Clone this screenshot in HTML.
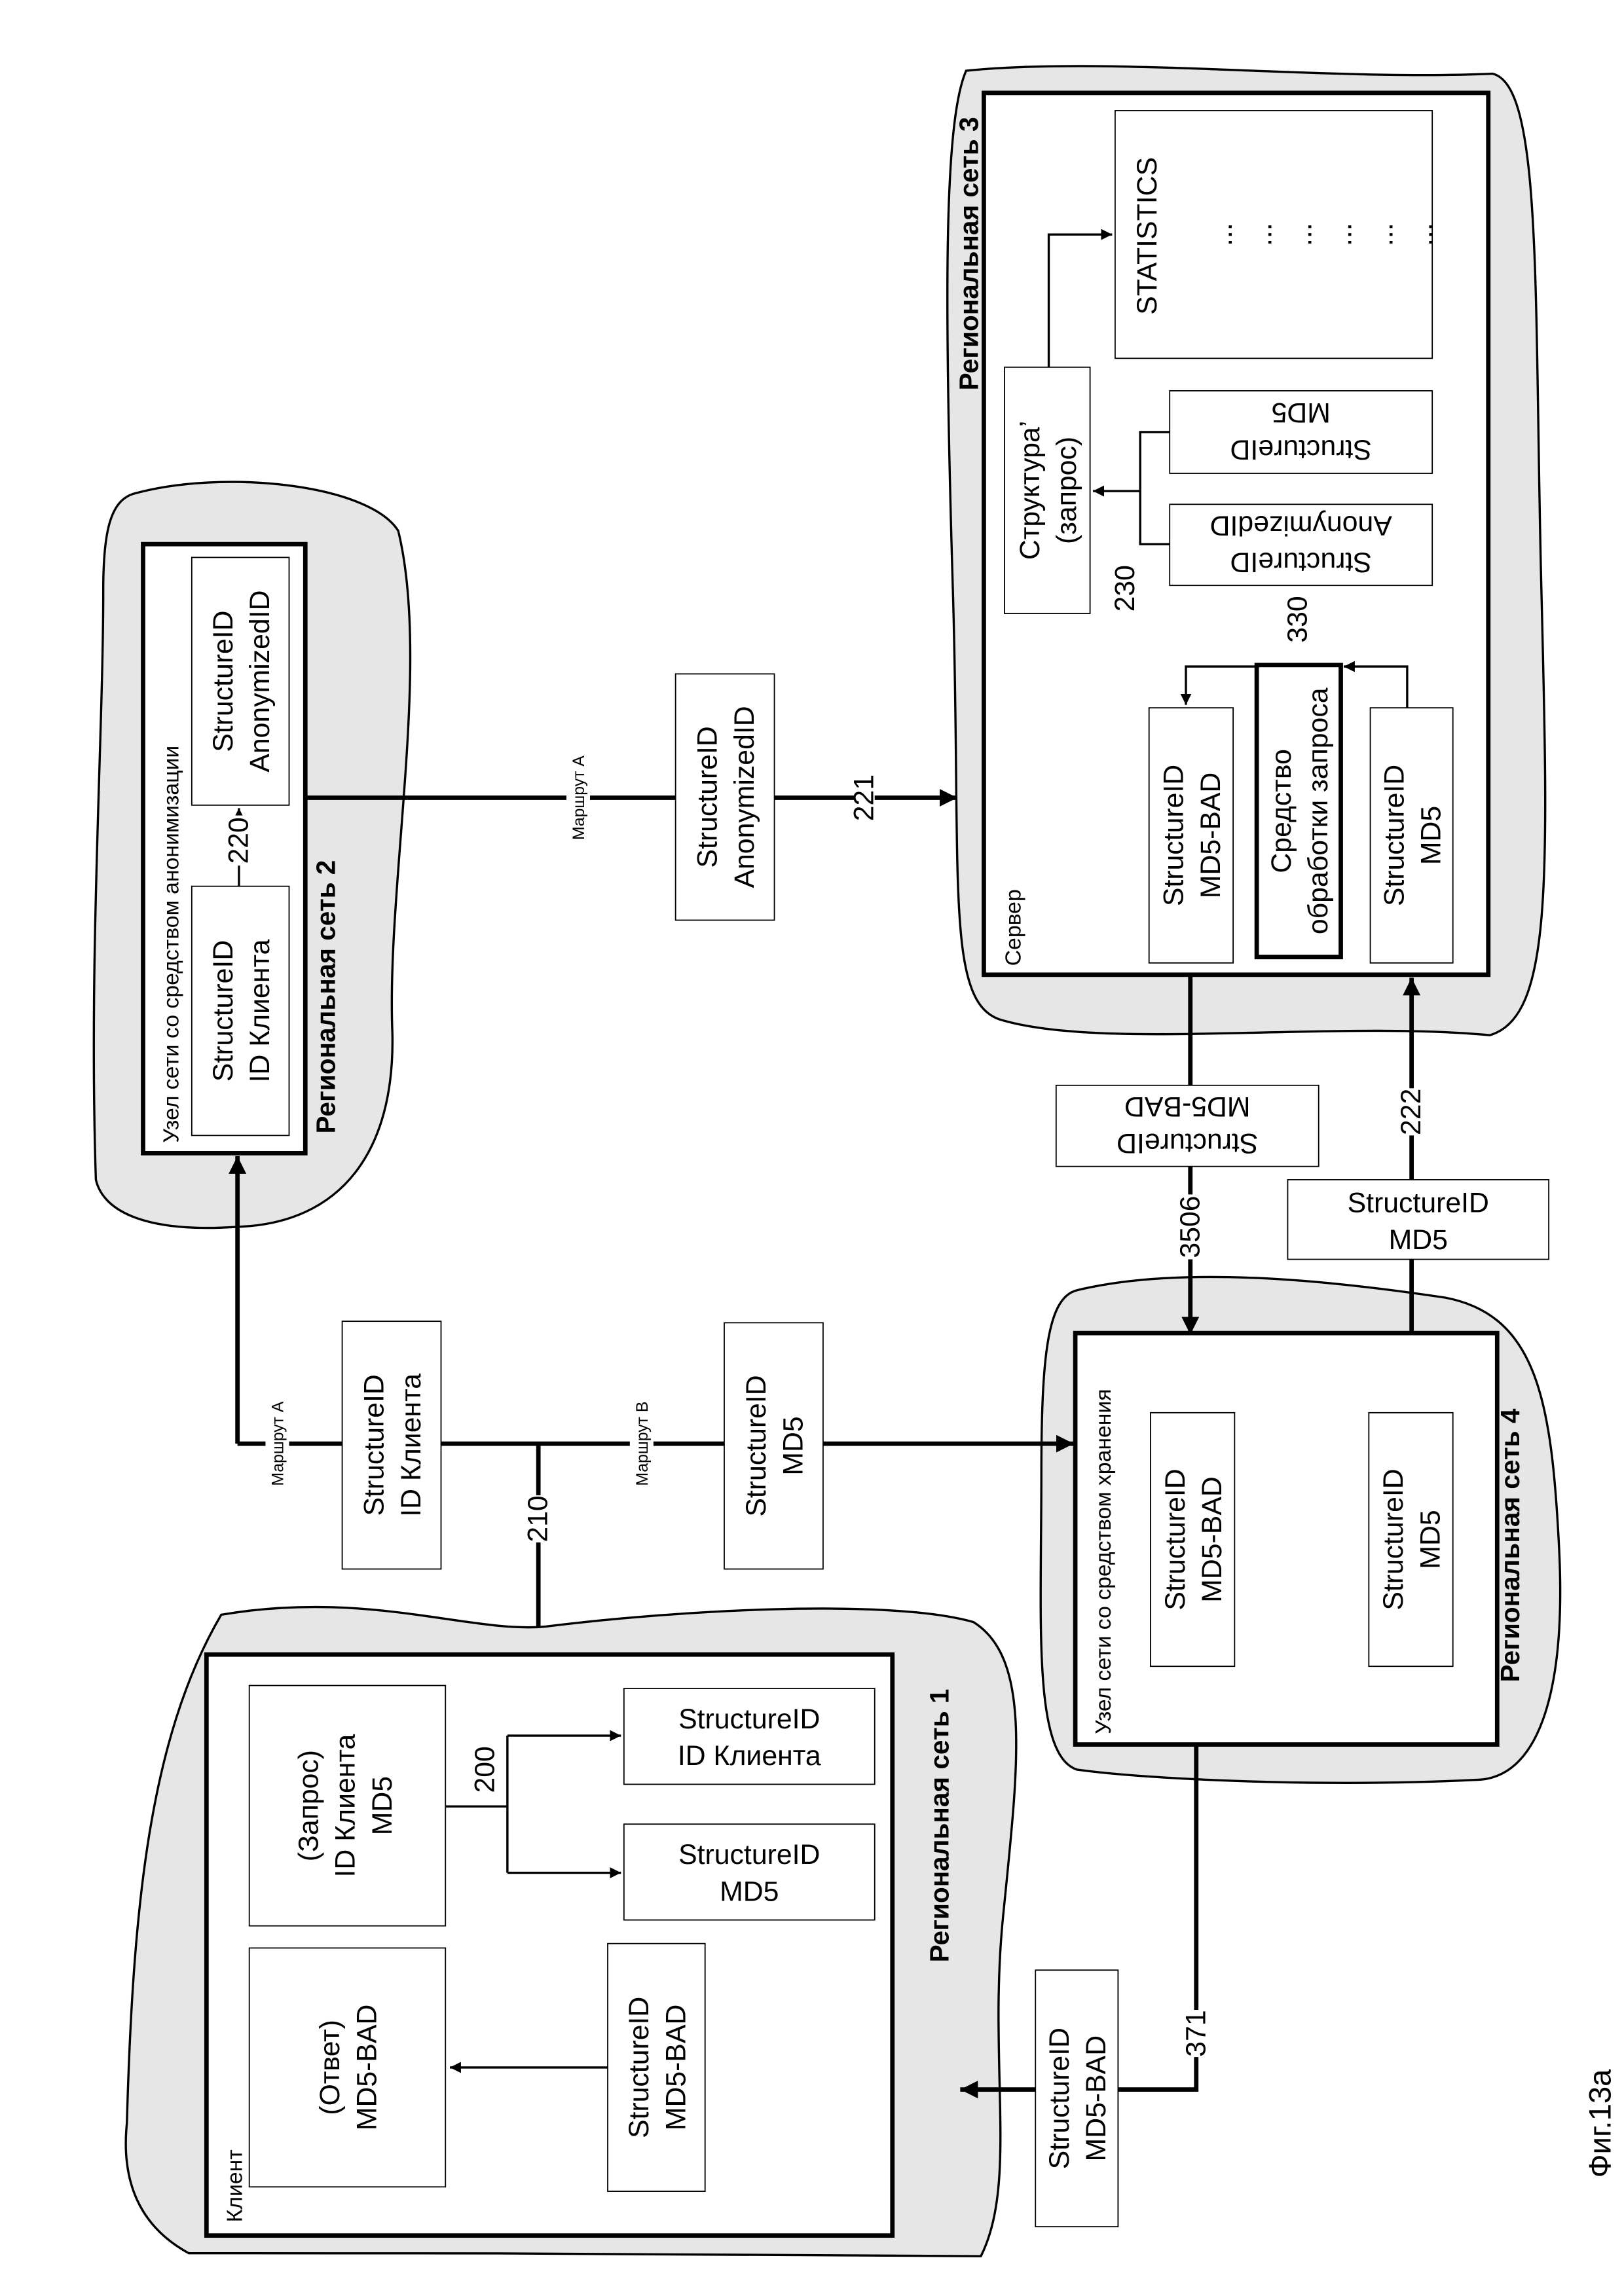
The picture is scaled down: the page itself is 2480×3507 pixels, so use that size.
<!DOCTYPE html>
<html><head><meta charset="utf-8"><style>
html,body{margin:0;padding:0;background:#fff;}
svg{display:block;}
text{font-family:"Liberation Sans",sans-serif;fill:#000;}
</style></head><body>
<svg width="2480" height="3507" viewBox="0 0 1101 1557" preserveAspectRatio="none" xmlns="http://www.w3.org/2000/svg">
<defs>
<marker id="a" viewBox="0 0 10 10" refX="10" refY="5" markerWidth="5" markerHeight="5" orient="auto" markerUnits="strokeWidth"><path d="M0,0 L10,5 L0,10 Z" fill="#000"/></marker>
<marker id="b" viewBox="0 0 10 10" refX="10" refY="5" markerWidth="4" markerHeight="4" orient="auto" markerUnits="strokeWidth"><path d="M0,0 L10,5 L0,10 Z" fill="#000"/></marker>
</defs>
<rect width="1101" height="1557" fill="#fff"/>
<g fill="#e6e6e6" stroke="#000" stroke-width="1.5">
<path d="M150,1095 C250,1078 320,1108 370,1103 C450,1093 600,1083 660,1100 C700,1125 690,1200 680,1300 C670,1400 690,1480 665,1530 C560,1528 300,1528 128,1528 C95,1510 82,1480 86,1440 C90,1300 100,1180 150,1095 Z"/>
<path d="M90,335 C150,318 250,328 270,360 C292,450 262,600 266,700 C268,780 232,830 160,832 C100,836 70,822 65,800 C60,650 70,500 70,400 C70,360 75,340 90,335 Z"/>
<path d="M655,48 C750,38 900,55 1012,50 C1046,58 1040,200 1045,400 C1050,600 1052,690 1010,702 C900,692 750,712 680,692 C640,682 652,600 646,400 C640,200 640,82 655,48 Z"/>
<path d="M730,875 C800,858 900,868 980,880 C1042,892 1052,950 1057,1050 C1062,1150 1042,1207 1000,1207 C900,1212 780,1207 730,1200 C700,1190 706,1100 706,1000 C706,920 710,880 730,875 Z"/>
</g>
<!-- thick connectors -->
<g stroke="#000" stroke-width="3" fill="none">
<path d="M161,979 L161,784" marker-end="url(#b)"/>
<path d="M161,979 L728,979" marker-end="url(#b)"/>
<path d="M365,979 L365,1104"/>
<path d="M207,541 L649,541" marker-end="url(#b)"/>
<path d="M807,661 L807,905" marker-end="url(#b)"/>
<path d="M957,904 L957,663" marker-end="url(#b)"/>
<path d="M811,1183 L811,1417 L651,1417" marker-end="url(#b)"/>
</g>
<!-- main boxes -->
<g fill="#fff" stroke="#000" stroke-width="3">
<rect x="140" y="1122" width="465" height="394"/>
<rect x="97" y="369" width="110" height="413"/>
<rect x="667" y="63" width="342" height="598"/>
<rect x="729" y="904" width="286" height="279"/>
</g>
<g fill="#fff" stroke="#000" stroke-width="0.8">
<rect x="169" y="1143" width="133" height="163"/>
<rect x="423" y="1145" width="170" height="65"/>
<rect x="423" y="1237" width="170" height="65"/>
<rect x="169" y="1321" width="133" height="162"/>
<rect x="412" y="1318" width="66" height="168"/>
<rect x="702" y="1336" width="56" height="174"/>
<rect x="130" y="601" width="66" height="169"/>
<rect x="130" y="378" width="66" height="168"/>
<rect x="232" y="896" width="67" height="168"/>
<rect x="491" y="897" width="67" height="167"/>
<rect x="458" y="457" width="67" height="167"/>
<rect x="780" y="958" width="57" height="172"/>
<rect x="928" y="958" width="57" height="172"/>
<rect x="716" y="736" width="178" height="55"/>
<rect x="873" y="800" width="177" height="54"/>
<rect x="756" y="75" width="215" height="168"/>
<rect x="681" y="249" width="58" height="167"/>
<rect x="793" y="265" width="178" height="56"/>
<rect x="793" y="342" width="178" height="55"/>
<rect x="779" y="480" width="57" height="173"/>
<rect x="929" y="480" width="56" height="173"/>
</g>
<rect x="852" y="451" width="57" height="198" fill="#fff" stroke="#000" stroke-width="3"/>
<!-- thin connectors -->
<g stroke="#000" stroke-width="1.5" fill="none">
<path d="M412,1402 L305,1402" marker-end="url(#a)"/>
<path d="M302,1225 L344,1225 M344,1177 L344,1270"/>
<path d="M344,1177 L421,1177" marker-end="url(#a)"/>
<path d="M344,1270 L421,1270" marker-end="url(#a)"/>
<path d="M162,601 L162,548" marker-end="url(#a)"/>
<path d="M793,293 L773,293 L773,369 L793,369 M773,333 L741,333" marker-end="url(#a)"/>
<path d="M711,249 L711,159 L754,159" marker-end="url(#a)"/>
<path d="M954,480 L954,452 L911,452" marker-end="url(#a)"/>
<path d="M852,452 L804,452 L804,478" marker-end="url(#a)"/>
</g>
<!-- label backgrounds -->
<g fill="#fff">
<rect x="180" y="950" width="16" height="58"/>
<rect x="358" y="1014" width="14" height="32"/>
<rect x="152" y="553" width="20" height="34"/>
<rect x="579" y="525" width="14" height="32"/>
<rect x="800" y="810" width="14" height="44"/>
<rect x="950" y="738" width="14" height="32"/>
<rect x="804" y="1363" width="14" height="32"/>
<rect x="384" y="512" width="16" height="58"/>
<rect x="427" y="950" width="16" height="58"/>
</g>
<g font-size="19" text-anchor="middle">
<g transform="translate(235.5,1224.5) rotate(-90)"><text y="-20">(Запрос)</text><text y="5">ID Клиента</text><text y="30">MD5</text></g>
<text x="508" y="1172">StructureID</text><text x="508" y="1197">ID Клиента</text>
<text x="508" y="1264">StructureID</text><text x="508" y="1289">MD5</text>
<g transform="translate(235.5,1402) rotate(-90)"><text y="-5.5">(Ответ)</text><text y="19.5">MD5-BAD</text></g>
<g transform="translate(445,1402) rotate(-90)"><text y="-5.5">StructureID</text><text y="19.5">MD5-BAD</text></g>
<g transform="translate(730,1423) rotate(-90)"><text y="-5.5">StructureID</text><text y="19.5">MD5-BAD</text></g>
<g transform="translate(163,685.5) rotate(-90)"><text y="-5.5">StructureID</text><text y="19.5">ID Клиента</text></g>
<g transform="translate(163,462) rotate(-90)"><text y="-5.5">StructureID</text><text y="19.5">AnonymizedID</text></g>
<g transform="translate(265.5,980) rotate(-90)"><text y="-5.5">StructureID</text><text y="19.5">ID Клиента</text></g>
<g transform="translate(524.5,980.5) rotate(-90)"><text y="-5.5">StructureID</text><text y="19.5">MD5</text></g>
<g transform="translate(491.5,540.5) rotate(-90)"><text y="-5.5">StructureID</text><text y="19.5">AnonymizedID</text></g>
<g transform="translate(808.5,1044) rotate(-90)"><text y="-5.5">StructureID</text><text y="19.5">MD5-BAD</text></g>
<g transform="translate(956.5,1044) rotate(-90)"><text y="-5.5">StructureID</text><text y="19.5">MD5</text></g>
<g transform="translate(807.5,566.5) rotate(-90)"><text y="-5.5">StructureID</text><text y="19.5">MD5-BAD</text></g>
<g transform="translate(880.5,550) rotate(-90)"><text y="-5.5">Средство</text><text y="19.5">обработки запроса</text></g>
<g transform="translate(957,566.5) rotate(-90)"><text y="-5.5">StructureID</text><text y="19.5">MD5</text></g>
<g transform="translate(710,332.5) rotate(-90)"><text y="-5.5">Структура’</text><text y="19.5">(запрос)</text></g>
<g transform="translate(882,293) rotate(180)"><text y="-5.5">StructureID</text><text y="19.5">MD5</text></g>
<g transform="translate(882,369.5) rotate(180)"><text y="-5.5">StructureID</text><text y="19.5">AnonymizedID</text></g>
<g transform="translate(805,763.5) rotate(180)"><text y="-5.5">StructureID</text><text y="19.5">MD5-BAD</text></g>
<text x="961.5" y="822">StructureID</text><text x="961.5" y="847">MD5</text>
<text transform="translate(784,160) rotate(-90)">STATISTICS</text>
<g transform="translate(835,159) rotate(-90)"><text>...</text></g>
<g transform="translate(862,159) rotate(-90)"><text>...</text></g>
<g transform="translate(889,159) rotate(-90)"><text>...</text></g>
<g transform="translate(916,159) rotate(-90)"><text>...</text></g>
<g transform="translate(944,159) rotate(-90)"><text>...</text></g>
<g transform="translate(971,159) rotate(-90)"><text>...</text></g>
<text transform="translate(371,1030) rotate(-90)">210</text>
<text transform="translate(335,1200) rotate(-90)">200</text>
<text transform="translate(168,570) rotate(-90)">220</text>
<text transform="translate(592,541) rotate(-90)">221</text>
<text transform="translate(813,832) rotate(-90)">3506</text>
<text transform="translate(963,754) rotate(-90)">222</text>
<text transform="translate(817,1379) rotate(-90)">371</text>
<text transform="translate(769,399) rotate(-90)">230</text>
<text transform="translate(886,420) rotate(-90)">330</text>
<text transform="translate(1092,1440) rotate(-90)" font-size="21">Фиг.13а</text>
</g>
<g font-size="11" text-anchor="middle">
<text transform="translate(192,979) rotate(-90)">Маршрут А</text>
<text transform="translate(439,979) rotate(-90)">Маршрут В</text>
<text transform="translate(396,541) rotate(-90)">Маршрут А</text>
</g>
<g font-size="15">
<text transform="translate(121,775) rotate(-90)">Узел сети со средством анонимизации</text>
<text transform="translate(753,1176) rotate(-90)">Узел сети со средством хранения</text>
<text transform="translate(164,1507) rotate(-90)">Клиент</text>
<text transform="translate(692,655) rotate(-90)">Сервер</text>
</g>
<g font-size="18" font-weight="bold" text-anchor="middle">
<text transform="translate(643,1238) rotate(-90)">Региональная сеть 1</text>
<text transform="translate(227,676) rotate(-90)">Региональная сеть 2</text>
<text transform="translate(663,172) rotate(-90)">Региональная сеть 3</text>
<text transform="translate(1030,1048) rotate(-90)">Региональная сеть 4</text>
</g>
</svg>
</body></html>
